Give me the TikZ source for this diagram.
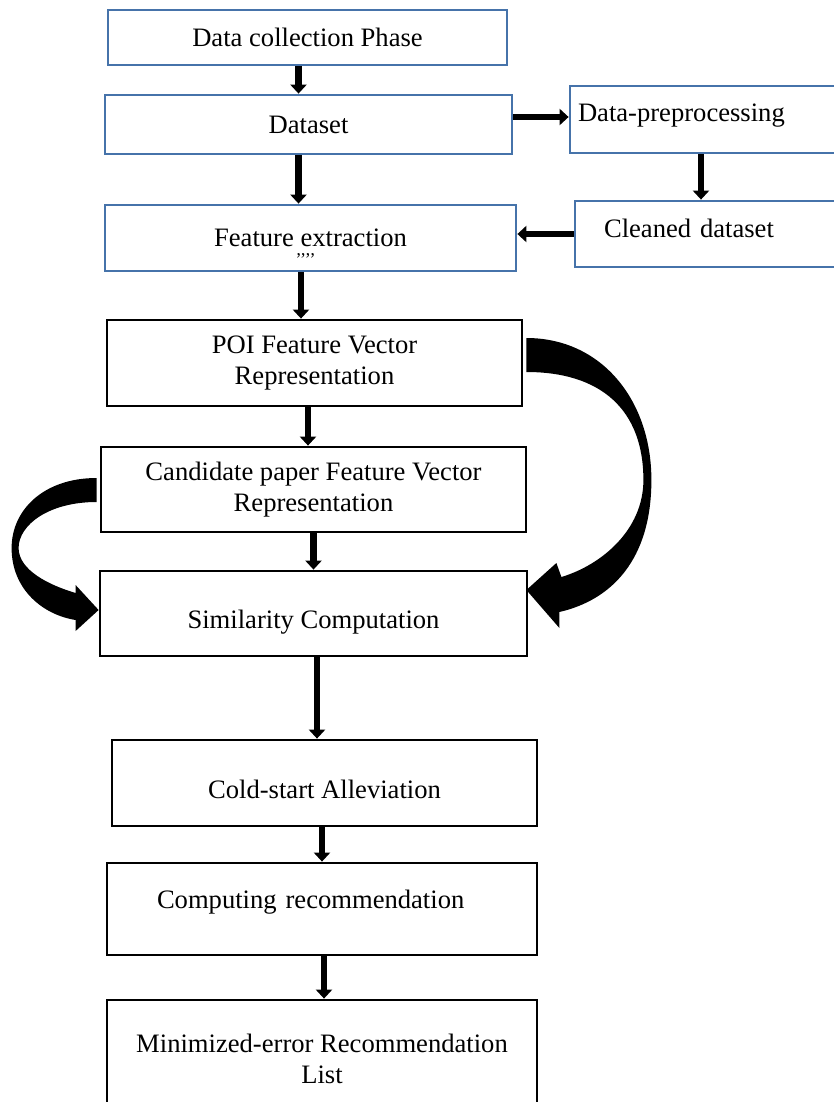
\documentclass[tikz,border=0pt]{standalone}
\usepackage{fontspec}
\setmainfont{Liberation Serif}
\usetikzlibrary{arrows.meta, calc}
\definecolor{wordblue}{RGB}{70,115,170}

\begin{document}
\begin{tikzpicture}[
    x=1pt, y=-1pt,
    box/.style={rectangle, draw=black, line width=2.8pt, align=center, inner sep=0pt, font=\fontsize{26.6}{31}\selectfont},
    bluebox/.style={box, draw=wordblue},
    arrow/.style={-{Triangle[width=16pt,length=9pt]}, line width=6.5pt},
    bentarrow/.style={fill=black}
]

\clip (0,0) rectangle (834,1102);
\fill[white] (0,0) rectangle (834,1102);

\node[bluebox, minimum width=399pt, minimum height=55pt] (collect) at (307.5,37.5) {Data collection Phase};
\node[bluebox, minimum width=407pt, minimum height=59pt] (dataset) at (308.5,124.5) {Dataset};
\node[bluebox, minimum width=330pt, minimum height=67pt, text width=314pt, inner xsep=8pt, align=left, text height=18pt, text depth=13pt] (preproc) at (735,119.5) {Data-preprocessing};
\node[bluebox, minimum width=325pt, minimum height=66pt, text width=267pt, inner xsep=29pt, align=left, text height=18pt, text depth=12pt] (cleaned) at (737.5,234) {Cleaned dataset};
\node[bluebox, minimum width=411pt, minimum height=66pt,
      label={[font=\fontsize{18}{18}\selectfont, inner sep=0pt, xshift=-5pt, yshift=-22pt]center:’’’’}] (feature) at (310.5,238) {Feature extraction};
\node[box, minimum width=415pt, minimum height=86pt] (poi) at (314.5,363) {POI Feature Vector\\Representation};
\node[box, minimum width=425pt, minimum height=85pt] (cand) at (313.5,489.5) {Candidate paper Feature Vector\\Representation};
\node[box, minimum width=427pt, minimum height=85pt, text height=35pt, text depth=6pt] (simil) at (313.5,613.5) {Similarity Computation};
\node[box, minimum width=425pt, minimum height=86pt, text height=30pt, text depth=0pt] (cold) at (324.5,783) {Cold-start Alleviation};
\node[box, minimum width=430pt, minimum height=92pt, text width=330pt, inner xsep=50pt, align=left, text height=18pt, text depth=20pt] (comput) at (322,909) {Computing recommendation};
\node[box, minimum width=430pt, minimum height=118pt] (minim) at (322,1059) {Minimized-error Recommendation\\List};

\draw[arrow] ([xshift=-9pt]collect.south) -- ([xshift=-9pt]collect.south |- dataset.north);
\draw[arrow] ([xshift=-10pt]dataset.south) -- ([xshift=-10pt]dataset.south |- feature.north);
\draw[arrow] ([yshift=7.5pt]dataset.east) -- ([yshift=7.5pt]dataset.east -| preproc.west);
\draw[arrow] ([xshift=-34pt]preproc.south) -- ([xshift=-34pt]preproc.south |- cleaned.north);
\draw[arrow] (cleaned.west) -- (cleaned.west -| feature.east);
\draw[arrow] ([xshift=-9.5pt]feature.south) -- ([xshift=-9.5pt]feature.south |- poi.north);
\draw[arrow] ([xshift=-6.5pt]poi.south) -- ([xshift=-6.5pt]poi.south |- cand.north);
\draw[arrow] (cand) -- (simil);
\draw[arrow] ([xshift=3.5pt]simil.south) -- ([xshift=3.5pt]simil.south |- cold.north);
\draw[arrow] ([xshift=-2.5pt]cold.south) -- ([xshift=-2.5pt]cold.south |- comput.north);
\draw[arrow] ([xshift=2pt]comput.south) -- ([xshift=2pt]comput.south |- minim.north);

\fill[bentarrow] ([shift={(3,-25)}]poi.east)
  .. controls ([shift={(78,-25)}]poi.east) and ([shift={(128,37)}]poi.east) .. ([shift={(128,117)}]poi.east)
  .. controls ([shift={(123,-53.5)}]simil.east) and ([shift={(83,-13.5)}]simil.east) .. ([shift={(31,-1.5)}]simil.east)
  -- ([shift={(31,14.5)}]simil.east)
  -- ([shift={(-2,-23.5)}]simil.east)
  -- ([shift={(28,-50.5)}]simil.east)
  -- ([shift={(33,-36.5)}]simil.east)
  .. controls ([shift={(73,-48.5)}]simil.east) and ([shift={(115,-83.5)}]simil.east) .. ([shift={(120,117)}]poi.east)
  .. controls ([shift={(120,47)}]poi.east) and ([shift={(78,9)}]poi.east) .. ([shift={(3,9)}]poi.east)
  -- cycle;

\fill[bentarrow] ([shift={(-3,-11.5)}]cand.west)
  .. controls ([shift={(-56,-11.5)}]cand.west) and ([shift={(-88,20.5)}]cand.west) .. ([shift={(-88,58.5)}]cand.west)
  .. controls ([shift={(-87,-23.5)}]simil.west) and ([shift={(-55,1.5)}]simil.west) .. ([shift={(-23,6.5)}]simil.west)
  -- ([shift={(-23,17.5)}]simil.west)
  -- ([shift={(0,-3.5)}]simil.west)
  -- ([shift={(-23,-28.5)}]simil.west)
  -- ([shift={(-23,-20.5)}]simil.west)
  .. controls ([shift={(-50,-28.5)}]simil.west) and ([shift={(-80,-43.5)}]simil.west) .. ([shift={(-81,58.5)}]cand.west)
  .. controls ([shift={(-81,35.5)}]cand.west) and ([shift={(-51,12.5)}]cand.west) .. ([shift={(-3,12.5)}]cand.west)
  -- cycle;

\end{tikzpicture}
\end{document}
